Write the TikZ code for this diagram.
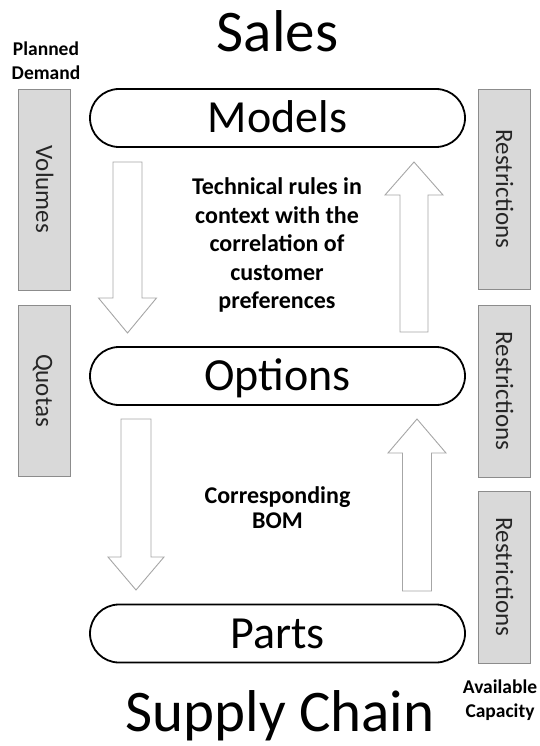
\documentclass[tikz,border=0pt]{standalone}
\usepackage{fontspec}
\setmainfont{Carlito}
\definecolor{boxfill}{HTML}{D9D9D9}
\definecolor{boxline}{HTML}{8C8C8C}
\definecolor{arrline}{HTML}{A6A6A6}
\definecolor{sidetext}{HTML}{262626}
\begin{document}
\begin{tikzpicture}[x=1pt,y=-1pt,
  pill/.style={draw=black,line width=1.8pt,rectangle,rounded corners=29pt,
    minimum width=375pt,minimum height=58pt,inner sep=0pt,
    font=\fontsize{46}{50}\selectfont,text height=29.6pt,text depth=0pt},
  sidebox/.style={draw=boxline,fill=boxfill,line width=0.8pt,minimum width=52pt,inner sep=0pt},
  sidelabel/.style={rotate=-90,text=sidetext,font=\fontsize{25}{28}\selectfont,inner sep=0pt,
    text height=16pt,text depth=0pt},
  blockarrow/.style={draw=arrline,fill=white,line width=0.9pt,line join=miter},
  bignote/.style={font=\bfseries\fontsize{24}{28.5}\selectfont,align=center,inner sep=0pt},
  smallnote/.style={font=\bfseries\fontsize{19.5}{24}\selectfont,align=center,inner sep=0pt},
  title/.style={font=\fontsize{59}{64}\selectfont,inner sep=0pt,anchor=base}]
\useasboundingbox (0,0) rectangle (539,746);

% titles
\node[title] (sales) at (277.5,52) {Sales};
\node[title] (supply) at (280,731) {Supply Chain};

% side notes
\node[smallnote] (planned) at (46,61) {Planned\\Demand};
\node[smallnote] (capacity) at (500,700) {Available\\Capacity};

% side boxes left
\node[sidebox,minimum height=201pt] (volumes) at (44,189.5) {};
\node[sidelabel] at (volumes.center) {Volumes};
\node[sidebox,minimum height=171pt] (quotas) at (44,390.5) {};
\node[sidelabel] at (quotas.center) {Quotas};

% side boxes right
\node[sidebox,minimum height=200pt] (r1) at (504,189) {};
\node[sidelabel] at (r1.center) {Restrictions};
\node[sidebox,minimum height=172pt] (r2) at (504,391) {};
\node[sidelabel] at (r2.center) {Restrictions};
\node[sidebox,minimum height=172pt] (r3) at (504,577) {};
\node[sidelabel] at (r3.center) {Restrictions};

% pills
\node[pill] (models) at (277.5,118) {Models};
\node[pill] (options) at (277.5,376) {Options};
\node[pill] (parts) at (277.5,633.5) {Parts};

% block arrows
\draw[blockarrow] (113,162) -- (142,162) -- (142,298) -- (156.5,298) -- (127.5,333)
  -- (98.5,298) -- (113,298) -- cycle;
\draw[blockarrow] (121,419) -- (151,419) -- (151,557) -- (164,557) -- (136,590)
  -- (108,557) -- (121,557) -- cycle;
\draw[blockarrow] (400,332) -- (428,332) -- (428,195) -- (443,195) -- (414,162)
  -- (385,195) -- (400,195) -- cycle;
\draw[blockarrow] (402.5,591) -- (431.5,591) -- (431.5,453) -- (446,453) -- (417,419)
  -- (388,453) -- (402.5,453) -- cycle;

% middle texts
\node[bignote] (rules) at (277,245) {Technical rules in\\context with the\\correlation of\\customer\\preferences};
\node[bignote,font=\bfseries\fontsize{24}{25.5}\selectfont] (bom) at (277.5,507.5) {Corresponding\\BOM};
\end{tikzpicture}
\end{document}
